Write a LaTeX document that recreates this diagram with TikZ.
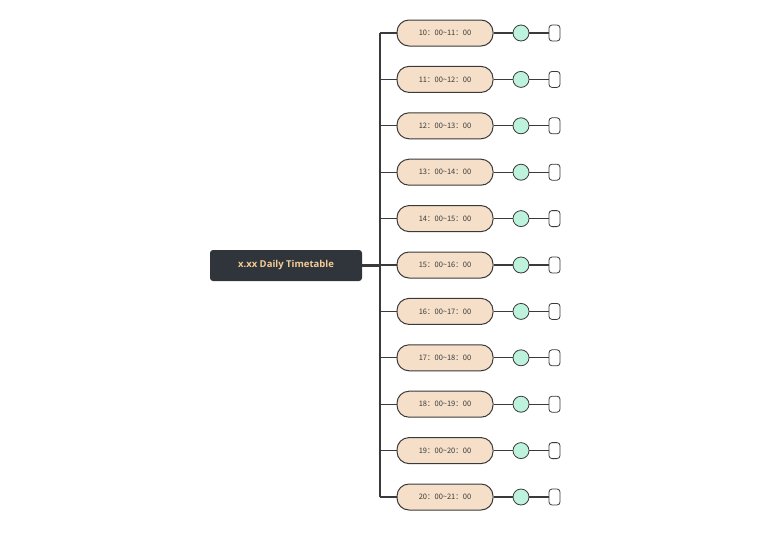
\documentclass[tikz,border=0pt]{standalone}
\usepackage{fontspec}
\setmainfont{Open Sans}
\newfontfamily\cjk{Noto Sans CJK SC}
\definecolor{rootbg}{HTML}{2F353B}
\definecolor{roottx}{HTML}{F6CB95}
\definecolor{peach}{HTML}{F5DFC8}
\definecolor{mint}{HTML}{BDF3DC}
\definecolor{edge}{HTML}{3A3A3A}
\begin{document}
\begin{tikzpicture}[x=1pt,y=-1pt,
  rootbox/.style={fill=rootbg,rounded corners=3pt,minimum width=152pt,minimum height=31pt,text=roottx,font=\bfseries\fontsize{9.5}{11}\selectfont,inner sep=0pt},
  slot/.style={draw=edge,line width=1pt,fill=peach,rounded corners=12pt,minimum width=96pt,minimum height=26pt,inner sep=0pt,font=\cjk\fontsize{7.5}{9}\selectfont,text=edge},
  dot/.style={circle,draw=edge,line width=0.8pt,fill=mint,minimum size=16pt,inner sep=0pt},
  tag/.style={draw=edge,line width=0.8pt,fill=white,rounded corners=3pt,minimum width=11pt,minimum height=16pt,inner sep=0pt},
  conn/.style={draw=edge,line width=1.2pt}]
\useasboundingbox (0,0) rectangle (771,552);
\node[rootbox] (root) at (286,265.5) {x.xx Daily Timetable};
\coordinate (top) at (380,33);
\coordinate (bot) at (380,497);
\draw[conn] (top) -- (bot);
\draw[conn,line width=2.5pt] (root.east) -- (380,265.5);
\foreach \i in {0,...,10}{
  \pgfmathtruncatemacro{\a}{10+\i}
  \pgfmathtruncatemacro{\b}{11+\i}
  \pgfmathsetmacro{\y}{33+46.4*\i}
  \coordinate (j\i) at (380,\y);
  \node[slot] (s\i) at (445,\y) {\a：00\string~\b：00};
  \node[dot] (c\i) at (521,\y) {};
  \node[tag] (t\i) at (554.5,\y) {};
  \draw[conn] (j\i) -- (s\i.west);
  \draw[conn] (s\i.east) -- (c\i.west);
  \draw[conn] (c\i.east) -- (t\i.west);
}
\end{tikzpicture}
\end{document}
